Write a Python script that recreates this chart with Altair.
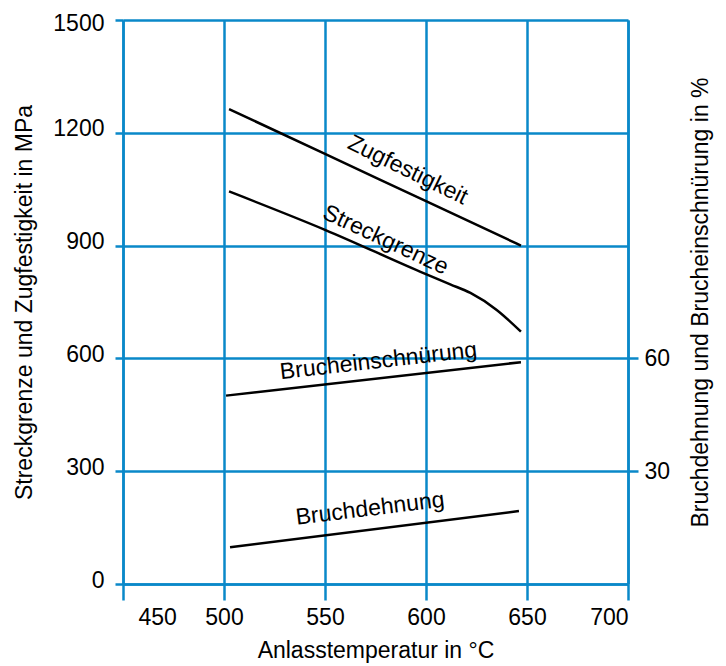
import altair as alt
import pandas as pd

# ---- data ----
temp_zug = [502.5, 550, 600, 647]
zugfestigkeit = [1263, 1144, 1018, 900]

temp_streck = [502.5, 550, 597, 612, 622, 635, 647]
streckgrenze = [1044, 942, 831, 797, 774, 729, 671]

temp_einsch = [501, 647]
brucheinschnuerung = [50.1, 59.0]

temp_dehn = [503, 646]
bruchdehnung = [9.8, 19.4]

x_ticks = [450, 500, 550, 600, 650, 700]
y_left_ticks = [0, 300, 600, 900, 1200, 1500]
y_right_ticks = [30, 60]

labels_mpa = ["Zugfestigkeit", "Streckgrenze"]
labels_mpa_T = [591, 580]
labels_mpa_v = [1101, 915]
labels_mpa_angle = [26, 25]

labels_pct = ["Brucheinschnürung", "Bruchdehnung"]
labels_pct_T = [576.5, 572.3]
labels_pct_p = [59.3, 20.0]
labels_pct_angle = [353.5, 353]

BLUE = "#0a88c9"
FONT = "Liberation Sans"
FS = 23

mpa_df = pd.DataFrame({
    "T": temp_zug + temp_streck,
    "v": zugfestigkeit + streckgrenze,
    "s": ["Zugfestigkeit"] * len(zugfestigkeit) + ["Streckgrenze"] * len(streckgrenze),
})
pct_df = pd.DataFrame({
    "T": temp_einsch + temp_dehn,
    "p": brucheinschnuerung + bruchdehnung,
    "s": ["Brucheinschnürung"] * len(brucheinschnuerung) + ["Bruchdehnung"] * len(bruchdehnung),
})
mpa_lab = pd.DataFrame({"T": labels_mpa_T, "v": labels_mpa_v, "name": labels_mpa, "a": labels_mpa_angle})
pct_lab = pd.DataFrame({"T": labels_pct_T, "p": labels_pct_p, "name": labels_pct, "a": labels_pct_angle})

x_enc = alt.X(
    "T:Q",
    scale=alt.Scale(domain=[450, 700], nice=False, zero=False),
    axis=alt.Axis(
        values=x_ticks, title="Anlasstemperatur in °C", grid=True, tickSize=16,
        labelPadding=6,
        labelOffset={"condition": {"test": "datum.value == 450", "value": 15}, "value": 0},
        titleY=66, titleBaseline="middle",
    ),
)
y_left = alt.Y(
    "v:Q",
    scale=alt.Scale(domain=[0, 1500], nice=False),
    axis=alt.Axis(
        values=y_left_ticks, format="d", orient="left", grid=True, tickSize=8, labelPadding=11,
        labelOffset={"condition": {"test": "datum.value == 1500", "value": 3}, "value": -4},
        title="Streckgrenze und Zugfestigkeit in MPa", titleAngle=270,
        titleX=-99, titleY=282, titleBaseline="middle",
    ),
)
y_right = alt.Y(
    "p:Q",
    scale=alt.Scale(domain=[0, 150], nice=False),
    axis=alt.Axis(
        values=y_right_ticks, format="d", orient="right", grid=False, tickSize=10, labelPadding=6,
        title="Bruchdehnung und Brucheinschnürung in %", titleAngle=270,
        titleX=72, titleY=282, titleBaseline="middle",
    ),
)

line_mpa = alt.Chart(mpa_df).mark_line(color="black", strokeWidth=2.5, interpolate="monotone").encode(
    x=x_enc, y=y_left, detail="s:N"
)
text_mpa = alt.Chart(mpa_lab).mark_text(
    font=FONT, fontSize=FS, color="black", align="center", baseline="middle"
).encode(x=x_enc, y=y_left, text="name:N", angle=alt.Angle("a:Q", scale=None))

line_pct = alt.Chart(pct_df).mark_line(color="black", strokeWidth=2.5).encode(
    x=x_enc, y=y_right, detail="s:N"
)
text_pct = alt.Chart(pct_lab).mark_text(
    font=FONT, fontSize=FS, color="black", align="center", baseline="middle"
).encode(x=x_enc, y=y_right, text="name:N", angle=alt.Angle("a:Q", scale=None))

chart = (
    alt.layer(alt.layer(line_mpa, text_mpa), alt.layer(line_pct, text_pct))
    .resolve_scale(y="independent")
    .properties(
        width=505, height=564,
        autosize=alt.AutoSizeParams(type="none"),
        padding={"left": 115, "top": 12, "right": 90, "bottom": 82},
        background="white",
    )
    .configure_view(stroke="transparent")
    .configure_axis(
        labelFont=FONT, titleFont=FONT, labelFontSize=FS, titleFontSize=FS,
        titleFontWeight="normal", labelColor="black", titleColor="black",
        domainColor=BLUE, tickColor=BLUE, gridColor=BLUE,
        domainWidth=2.5, tickWidth=2.5, gridWidth=2.5, gridOpacity=1,
    )
)

chart.save("out.html", embed_options={"renderer": "svg", "actions": False})
